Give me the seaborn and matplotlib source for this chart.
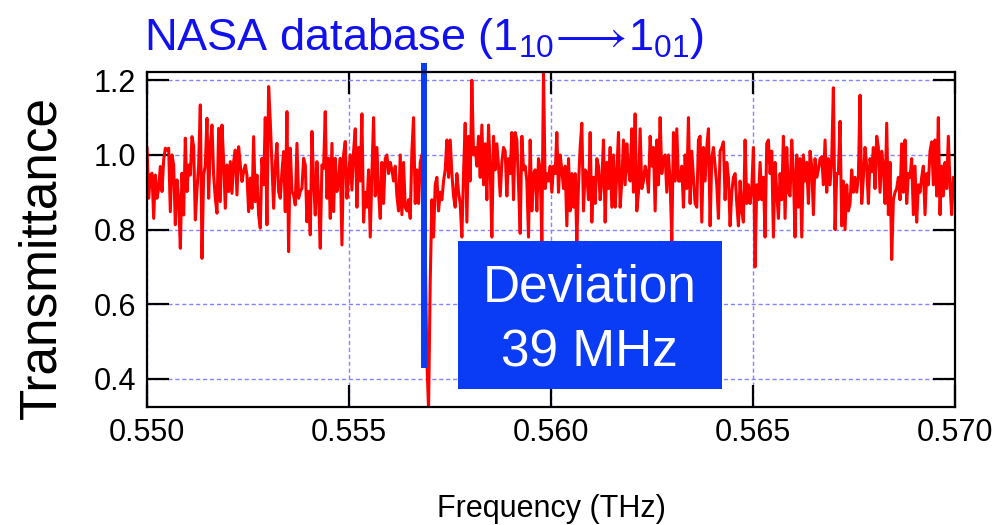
import numpy as np
import pandas as pd
import matplotlib
matplotlib.use("Agg")
import matplotlib.pyplot as plt
from matplotlib.patches import Rectangle
from matplotlib.ticker import FormatStrFormatter
import seaborn as sns

# ---------------- data ----------------
freq_start = 0.550
freq_stop = 0.570

seg1 = [1.022, 0.884, 0.946, 0.951, 0.830, 0.946, 0.884, 0.911, 0.969, 0.902,
        0.987, 1.018, 1.013, 1.018, 0.848, 1.000, 0.973, 0.813, 0.933, 0.884,
        0.750, 0.951, 0.839, 1.045, 0.902, 0.973, 0.946, 1.049, 1.022, 0.826,
        0.906, 0.973, 1.134, 0.723, 0.946, 0.973, 1.098, 0.884, 1.027, 1.080,
        0.946, 0.884, 0.844, 1.071, 0.875, 1.080, 0.982, 0.857, 0.973, 0.902,
        0.982, 0.897, 0.982, 1.013, 0.893, 1.022, 0.973, 0.929, 0.955, 0.973,
        0.946, 0.848, 0.938]
seg2 = [0.857, 1.049, 0.875, 0.946, 0.839, 0.804, 0.991, 0.920, 1.100, 0.813,
        1.183, 1.089, 0.973, 0.857, 0.973, 1.031, 0.902, 0.884, 0.955, 1.009,
        0.848, 1.116, 0.741, 1.018, 0.902, 0.893, 0.866, 1.031, 0.884, 0.902,
        0.911, 0.991, 0.973, 0.821, 0.902, 0.786, 1.063, 0.929, 0.839, 0.982,
        0.884, 0.750, 0.973, 0.964, 1.116, 0.884, 0.991, 0.830, 1.031, 0.848,
        0.991, 0.902, 0.929, 0.991, 0.759, 1.000, 1.036, 0.884, 0.946, 1.000,
        0.906, 1.009]
seg3 = [1.07, 0.86, 1.02, 0.93, 1.11, 0.82, 0.90, 0.86, 0.96, 0.78,
        0.95, 1.10, 0.89, 1.02, 0.90, 0.83, 0.98, 0.87, 0.99, 1.00,
        0.95, 0.98, 0.96, 0.93, 0.97, 0.89, 0.85, 1.00, 0.84, 0.98,
        0.86, 0.85, 0.88, 0.83, 1.01, 1.10, 0.87, 0.96, 0.87, 0.98,
        1.00, 0.91, 0.75, 0.45, 0.32, 0.66, 0.88, 0.78, 0.92, 0.94,
        0.85, 0.90, 0.88, 0.93, 0.96, 1.04, 0.94, 1.04, 0.95, 0.89,
        0.86, 0.95, 0.90]
seg4 = [0.87, 0.78, 0.95, 1.085, 0.82, 1.05, 0.93, 1.20, 1.00, 1.02,
        0.97, 1.05, 0.94, 1.08, 0.92, 1.03, 0.88, 1.08, 0.97, 0.78,
        1.05, 0.96, 1.03, 0.97, 0.89, 0.98, 1.02, 1.01, 0.89, 0.99,
        0.95, 1.06, 0.88, 1.06, 1.04, 0.92, 0.79, 1.05, 0.96, 0.97,
        0.93, 0.78, 1.04, 0.85, 0.95, 0.96, 0.85, 0.99, 0.96, 0.77,
        1.23, 0.91, 0.95, 0.93, 0.97, 0.90, 0.97, 0.95, 1.06, 0.90,
        1.00, 0.96, 0.91]
seg5 = [0.97, 0.81, 0.99, 0.85, 0.95, 0.86, 0.95, 0.77, 0.92, 1.02,
        1.085, 0.85, 0.96, 0.95, 0.88, 1.06, 0.82, 0.94, 0.87, 0.99,
        0.97, 0.88, 0.93, 1.04, 0.82, 0.98, 0.91, 1.02, 0.86, 1.00,
        0.86, 0.95, 1.06, 0.86, 0.93, 1.04, 0.92, 1.03, 0.96, 0.93,
        1.07, 0.90, 1.11, 0.85, 0.90, 1.07, 0.91, 0.93, 0.97, 0.95,
        0.90, 1.05, 0.97, 1.02, 0.85, 1.04, 0.92, 1.10, 0.95, 0.99,
        1.00, 0.90, 1.00]
seg6 = [0.93, 0.77, 1.06, 0.93, 1.07, 0.93, 0.93, 0.97, 0.86, 1.00,
        0.91, 1.10, 0.87, 1.01, 0.94, 0.87, 0.86, 1.04, 1.05, 0.82,
        1.02, 0.93, 1.02, 1.07, 0.81, 0.99, 1.02, 0.97, 0.92, 0.83,
        1.01, 1.02, 1.035, 0.88, 0.98, 0.94, 0.81, 0.90, 0.94, 0.95,
        0.87, 0.81, 0.93, 0.85, 0.82, 1.04, 0.87, 0.92, 0.87, 0.91,
        1.02, 0.70, 0.92, 0.88, 0.98, 0.88, 0.94, 0.78, 1.03, 1.04,
        0.95, 1.01, 0.78]
seg7 = [0.98, 0.90, 0.83, 0.95, 0.88, 1.05, 0.83, 1.02, 0.90, 0.89,
        1.04, 0.95, 0.78, 1.00, 0.86, 0.99, 0.78, 1.00, 0.93, 0.98,
        0.87, 1.01, 0.97, 0.84, 0.99, 0.94, 0.96, 0.99, 0.995, 0.92,
        1.04, 0.90, 0.99, 0.92, 0.99, 1.18, 0.80, 0.95, 0.95, 1.09,
        0.81, 0.93, 0.80, 0.92, 0.85, 0.87, 0.96, 0.90, 0.94, 0.90,
        0.94, 1.16, 0.87, 0.94, 1.02, 0.97, 0.87]
seg8 = [0.99, 0.955, 1.02, 0.91, 1.05, 1.02, 0.90, 1.01, 0.97, 0.87,
        1.085, 0.84, 0.98, 0.72, 0.88, 0.90, 0.91, 0.94, 0.88, 1.03,
        0.90, 1.04, 0.87, 0.95, 0.94, 0.99, 0.84, 0.97, 0.82, 0.92,
        0.90, 0.94, 0.97, 0.84, 0.95, 0.92, 1.01, 1.035, 0.92, 1.04,
        0.89, 1.10, 0.84, 0.97, 0.89, 0.98, 0.91, 1.05, 0.92, 0.84,
        0.94, 0.94]

nasa_freq = 0.55686          # NASA database line position (THz)
nasa_span = (0.43, 1.245)    # vertical extent of the marker line

x_ticks = [0.550, 0.555, 0.560, 0.565, 0.570]
y_ticks = [0.4, 0.6, 0.8, 1.0, 1.2]

title_text = "NASA database (1$_{10}$$\\!\\longrightarrow\\!$1$_{01}$)"
box_text = "Deviation\n39 MHz"
x_label = "Frequency (THz)"
y_label = "Transmittance"

# ---------------- build table ----------------
trans = seg1 + seg2 + seg3 + seg4 + seg5 + seg6 + seg7 + seg8
freq = np.linspace(freq_start, freq_stop, len(trans))
df = pd.DataFrame({"freq": freq, "trans": trans})

# ---------------- style ----------------
sns.set_style("ticks")
plt.rcParams["font.family"] = ["Liberation Sans", "DejaVu Sans"]
plt.rcParams["mathtext.fontset"] = "custom"
plt.rcParams["mathtext.rm"] = "Liberation Sans"
plt.rcParams["mathtext.it"] = "Liberation Sans:italic"
plt.rcParams["mathtext.bf"] = "Liberation Sans:bold"
plt.rcParams["mathtext.fallback"] = "stixsans"
plt.rcParams["text.color"] = "black"
plt.rcParams["axes.labelcolor"] = "black"

fig = plt.figure(figsize=(10, 5.25), dpi=100)
ax = fig.add_axes([0.147, 0.2248, 0.808, 0.638])

sns.lineplot(data=df, x="freq", y="trans", ax=ax, color="#ff0000",
             linewidth=2.2, estimator=None, sort=False, zorder=3)

ax.vlines(nasa_freq, nasa_span[0], nasa_span[1], colors="#0b3cf2",
          linewidth=4.3, zorder=4, clip_on=False)

ax.set_xlim(freq_start, freq_stop)
ax.set_ylim(0.325, 1.222)
ax.set_xticks(x_ticks)
ax.set_yticks(y_ticks)
ax.xaxis.set_major_formatter(FormatStrFormatter("%.3f"))
ax.yaxis.set_major_formatter(FormatStrFormatter("%.1f"))

ax.grid(True, color="#8484ff", linestyle=(0, (3, 2)), linewidth=1.0)
ax.set_axisbelow(True)

for sp in ax.spines.values():
    sp.set_linewidth(1.6)
    sp.set_color("black")
    sp.set_zorder(6)
ax.tick_params(direction="in", length=16, width=1.6, top=True, right=True,
               labelsize=22, pad=8, colors="black")

ax.set_xlabel(x_label, fontsize=22, color="black")
ax.xaxis.set_label_coords(0.5, -0.26)
ax.set_ylabel(y_label, fontsize=37, va="center", color="black")
ax.yaxis.set_label_coords(-0.13, 0.445)

# blue annotation box
ax.add_patch(Rectangle((0.385, 0.0537), 0.3266, 0.4418, transform=ax.transAxes,
                       facecolor="#0a3cf5", edgecolor="none", zorder=5))
ax.text(0.548, 0.257, box_text, transform=ax.transAxes, ha="center",
        va="center", fontsize=37, color="white", linespacing=1.42, zorder=6)

fig.text(0.424, 0.905, title_text, ha="center", va="baseline",
         fontsize=32.5, color="#1010f0")

fig.savefig("out.png", dpi=100)
